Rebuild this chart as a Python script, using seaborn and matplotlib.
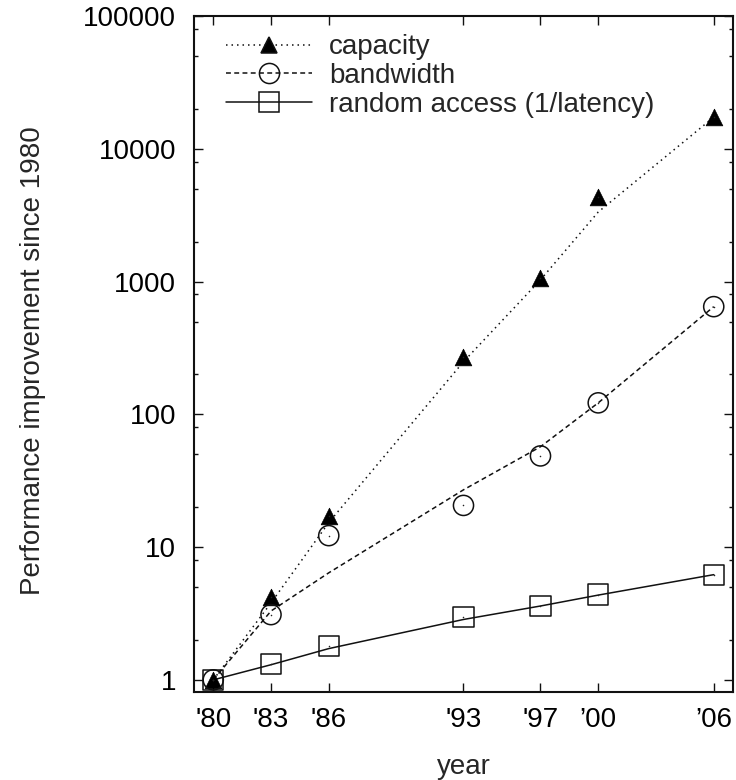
import numpy as np
import pandas as pd
import matplotlib
matplotlib.use("Agg")
import matplotlib.pyplot as plt
from matplotlib.lines import Line2D
from matplotlib.ticker import FixedLocator, LogLocator, FuncFormatter, NullFormatter

import seaborn as sns

# data
years = [1980, 1983, 1986, 1993, 1997, 2000, 2006]
year_labels = ["'80", "'83", "'86", "'93", "'97", "\u201900", "\u201906"]

# measured points
capacity = [1, 4.2, 17, 272, 1060, 4350, 17300]
bandwidth = [1, 3.1, 12.2, 20.6, 48.6, 122, 647]
random_access = [1, 1.32, 1.79, 2.97, 3.62, 4.39, 6.2]

# trend curves, read at the same years
capacity_fit = [1, 3.8, 15.3, 249, 1030, 3340, 17300]
bandwidth_fit = [1, 3.3, 6.4, 27, 57, 122, 647]
random_access_fit = [1, 1.3, 1.72, 2.85, 3.6, 4.35, 6.2]

labels = ["capacity", "bandwidth", "random access (1/latency)"]

sns.set_theme(style="ticks")
plt.rcParams["font.family"] = ["Liberation Sans", "DejaVu Sans"]
plt.rcParams["font.size"] = 20

points = pd.DataFrame({"year": years * 3,
                       "value": capacity + bandwidth + random_access,
                       "series": np.repeat(labels, len(years))})
fits = pd.DataFrame({"year": years * 3,
                     "value": capacity_fit + bandwidth_fit + random_access_fit,
                     "series": np.repeat(labels, len(years))})

fig = plt.figure(figsize=(7.36, 7.8), dpi=100)
ax = fig.add_axes([0.2636, 0.1128, 0.7323, 0.8667])

styles = {
    "capacity": dict(ls=(0, (1, 2.6)), marker="^", ms=12, fill=True),
    "bandwidth": dict(ls=(0, (3.2, 2.2)), marker="o", ms=14.5, fill=False),
    "random access (1/latency)": dict(ls="-", marker="s", ms=14.5, fill=False),
}

handles = []
for name in labels:
    st = styles[name]
    f = fits[fits.series == name]
    p = points[points.series == name]
    sns.lineplot(data=f, x="year", y="value", ax=ax, color="#111111",
                 linewidth=1.1, linestyle=st["ls"])
    if st["fill"]:
        sns.scatterplot(data=p, x="year", y="value", ax=ax, marker=st["marker"],
                        s=st["ms"] ** 2, color="black", edgecolor="black",
                        linewidth=0.5, zorder=5)
    else:
        sns.scatterplot(data=p, x="year", y="value", ax=ax, marker=st["marker"],
                        s=st["ms"] ** 2, facecolor="none", edgecolor="#111111",
                        linewidth=1.1, zorder=5)
    sns.scatterplot(data=p, x="year", y="value", ax=ax, marker=".", s=5,
                    color="#222222", linewidth=0, zorder=6)
    handles.append(Line2D([], [], color="#111111", lw=1.1, linestyle=st["ls"],
                          marker=st["marker"], markersize=st["ms"],
                          markerfacecolor="black" if st["fill"] else "none",
                          markeredgecolor="#111111", markeredgewidth=1.1))

ax.set_yscale("log")
ax.set_xlim(1979, 2007)
ax.set_ylim(0.81, 1e5)

ax.xaxis.set_major_locator(FixedLocator(years))
ax.set_xticklabels(year_labels)
ax.yaxis.set_major_locator(FixedLocator([1, 10, 100, 1000, 10000, 100000]))
ax.yaxis.set_major_formatter(FuncFormatter(lambda v, _: f"{v:g}"))
ax.yaxis.set_minor_locator(LogLocator(base=10, subs=[2, 5, 8]))
ax.yaxis.set_minor_formatter(NullFormatter())

ax.tick_params(which="both", direction="in", top=True, right=True,
               colors="#111111", labelcolor="black", labelsize=20)
ax.tick_params(which="major", length=6.5, width=1.0)
ax.tick_params(axis="x", which="major", pad=11)
ax.tick_params(axis="y", which="major", pad=13)
ax.tick_params(which="minor", length=3.2, width=1.0)
for sp in ax.spines.values():
    sp.set_linewidth(1.5)
    sp.set_color("#111111")

ax.set_xlabel("year", fontsize=20)
ax.set_ylabel("Performance improvement since 1980", fontsize=20)
ax.xaxis.set_label_coords(0.5, -0.092)
ax.yaxis.set_label_coords(-0.275, 0.49)

ax.legend(handles, labels, loc="upper left", bbox_to_anchor=(0.06, 0.973),
          frameon=False, fontsize=20, handlelength=3.1, handletextpad=0.6,
          labelspacing=0.1, borderpad=0, borderaxespad=0)

fig.savefig("out.png", dpi=100)
